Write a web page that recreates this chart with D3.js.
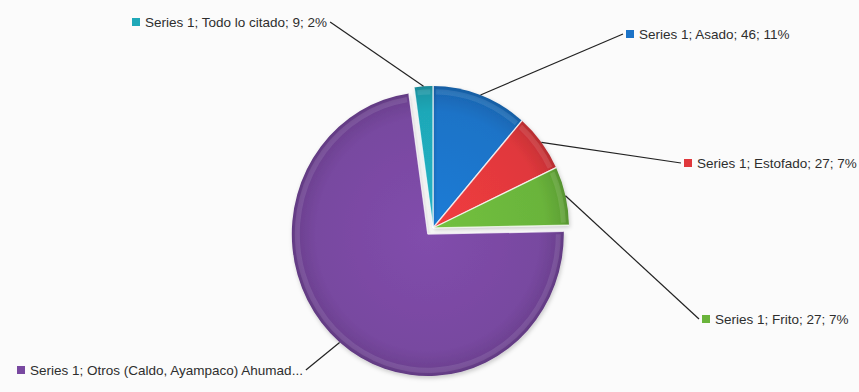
<!DOCTYPE html>
<html>
<head>
<meta charset="utf-8">
<script src="https://cdn.jsdelivr.net/npm/d3@7"></script>
<style>
  html, body { margin: 0; padding: 0; background: #fbfbfb; }
  svg { display: block; }
  text { font-family: "Liberation Sans", "DejaVu Sans", sans-serif; font-size: 13.5px; fill: #2e2e2e; }
</style>
</head>
<body>
<svg id="chart" width="859" height="392"></svg>
<script>
// Series data
const seriesName = "Series 1";
const categories = ["Asado", "Estofado", "Frito", "Otros (Caldo, Ayampaco) Ahumado", "Todo lo citado"];
const values = [46, 27, 27, 296, 9];
const colors = ["#1c73c7", "#e0383c", "#6ab43b", "#7848a0", "#1fa8b8"];
const maxLabelChars = 40;

// Label placement (callout box anchors) and slice explosion, in pixels
const labelAnchors = [
  { x: 626, y: 34, side: "right" },
  { x: 684, y: 163, side: "right" },
  { x: 702, y: 319, side: "right" },
  { x: 17,  y: 370, side: "left" },
  { x: 132, y: 22,  side: "left" }
];
const explode = [0, 0, 0, 8, 0];

const cx = 433, cy = 228;
const rx = 136, ry = 142;

const svg = d3.select("#chart");
const defs = svg.append("defs");

// soft shading per slice colour
colors.forEach((c, i) => {
  const g = defs.append("radialGradient")
    .attr("id", "grad" + i)
    .attr("gradientUnits", "userSpaceOnUse")
    .attr("cx", 0).attr("cy", 0).attr("r", rx);
  const base = d3.color(c);
  g.append("stop").attr("offset", "0%").attr("stop-color", base.brighter(0.2));
  g.append("stop").attr("offset", "82%").attr("stop-color", base);
  g.append("stop").attr("offset", "96%").attr("stop-color", base.darker(0.3));
  g.append("stop").attr("offset", "100%").attr("stop-color", base.darker(0.6));
});

const shadow = defs.append("filter").attr("id", "shadow")
  .attr("x", "-20%").attr("y", "-20%").attr("width", "140%").attr("height", "140%");
shadow.append("feDropShadow").attr("dx", 1).attr("dy", 2).attr("stdDeviation", 2)
  .attr("flood-color", "#000").attr("flood-opacity", 0.2);

const total = d3.sum(values);
const pie = d3.pie().sort(null).value(d => d)(values);
const arc = d3.arc().innerRadius(0).outerRadius(rx);

const pieG = svg.append("g")
  .attr("transform", `translate(${cx},${cy}) scale(1,${ry / rx})`);

const slices = pieG.selectAll("g.slice").data(pie).enter().append("g")
  .attr("class", "slice")
  .attr("transform", (d, i) => {
    const mid = (d.startAngle + d.endAngle) / 2;
    const e = explode[i];
    return `translate(${Math.sin(mid) * e},${-Math.cos(mid) * e * rx / ry})`;
  });

slices.append("path")
  .attr("d", arc)
  .attr("fill", (d, i) => `url(#grad${i})`)
  .attr("filter", "url(#shadow)");

// light separators along the straight slice edges
slices.each(function (d) {
  const g = d3.select(this);
  [d.startAngle, d.endAngle].forEach(a => {
    g.append("line")
      .attr("x1", 0).attr("y1", 0)
      .attr("x2", Math.sin(a) * rx).attr("y2", -Math.cos(a) * rx)
      .attr("stroke", "#ffffff").attr("stroke-opacity", 0.75)
      .attr("stroke-width", 1.3);
  });
});

// inner highlight rim for a bevelled look
const bevel = d3.arc().innerRadius(rx - 8).outerRadius(rx - 3);
slices.append("path")
  .attr("d", d => bevel({ startAngle: d.startAngle + 0.02, endAngle: d.endAngle - 0.02 }))
  .attr("fill", "#ffffff")
  .attr("opacity", 0.1);

// Callout labels
const labelG = svg.append("g");
pie.forEach((d, i) => {
  const a = labelAnchors[i];
  const pct = Math.round(values[i] / total * 100);
  let txt = `${seriesName}; ${categories[i]}; ${values[i]}; ${pct}%`;
  if (txt.length > maxLabelChars) txt = txt.slice(0, maxLabelChars) + "...";
  const mid = (d.startAngle + d.endAngle) / 2;
  const e = explode[i];
  const px = cx + Math.sin(mid) * (rx + e);
  const py = cy - Math.cos(mid) * (ry + e * ry / rx);

  const lg = labelG.append("g");
  lg.append("rect")
    .attr("x", a.x).attr("y", a.y - 4)
    .attr("width", 8).attr("height", 8)
    .attr("fill", colors[i]);
  const t = lg.append("text")
    .attr("x", a.x + 13).attr("y", a.y + 5)
    .text(txt);
  let ex, ey = a.y;
  if (a.side === "right") {
    ex = a.x - 3;
  } else {
    ex = a.x + 13 + t.node().getComputedTextLength() + 3;
  }
  labelG.append("line")
    .attr("x1", px).attr("y1", py)
    .attr("x2", ex).attr("y2", ey)
    .attr("stroke", "#222")
    .attr("stroke-width", 1.2);
});
</script>
</body>
</html>
